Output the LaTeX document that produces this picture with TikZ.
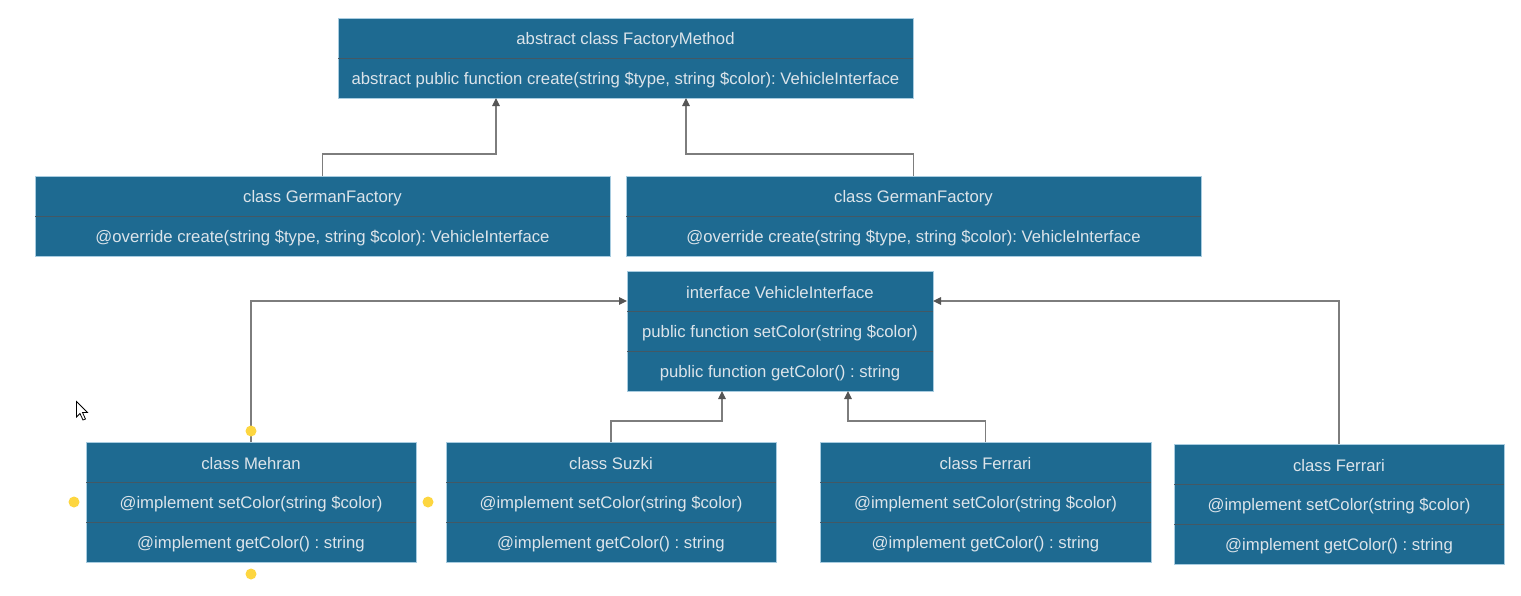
\documentclass[tikz,border=0pt]{standalone}
\usepackage{fontspec}
\setmainfont{Liberation Sans}
\usetikzlibrary{arrows.meta}
\frenchspacing
\definecolor{boxfill}{RGB}{30,106,145}
\definecolor{boxline}{RGB}{168,204,224}
\definecolor{sepline}{RGB}{68,88,100}
\definecolor{boxtext}{RGB}{220,228,234}
\definecolor{connline}{RGB}{125,125,125}
\definecolor{arrowcol}{RGB}{85,85,85}
\definecolor{handle}{RGB}{253,214,64}
\tikzset{
  umlbox/.style={draw=boxline, line width=0.8pt, fill=boxfill, rectangle, inner sep=0pt, outer sep=0pt},
  umltext/.style={text=boxtext, inner sep=0pt, font=\fontsize{16.7}{20}\selectfont\frenchspacing},
  sepstyle/.style={draw=sepline, line width=0.9pt},
  conn/.style={draw=connline, line width=1.1pt, -{Triangle[length=8pt,width=7.5pt,fill=arrowcol,color=arrowcol]}},
  handledot/.style={circle, fill=handle, draw=none, minimum size=11pt, inner sep=0pt},
}
% #1 name, #2 left x, #3 top y, #4 width, #5 number of rows, #6 rows
\newcommand\umlclass[6]{%
  \node[umlbox, minimum width=#4pt, minimum height=40*#5pt] (#1) at ({#2+#4/2},{#3+20*#5}) {};
  \foreach \rowtext [count=\k] in {#6} {
    \ifnum\k>1 \draw[sepstyle] ({#2},{#3+40*\k-40}) -- ++(#4,0); \fi
    \node[umltext] (#1-\k) at ({#2+#4/2},{#3+40*\k-18}) {\rowtext};
  }
}
\begin{document}
\begin{tikzpicture}[x=1pt,y=-1pt]
\useasboundingbox[fill=white] (0,0) rectangle (1521,595);

\umlclass{fm}{338}{18}{575}{2}{{abstract class FactoryMethod},{abstract public function create(string \$type, string \$color): VehicleInterface}}
\umlclass{gfa}{35}{176}{575}{2}{{class GermanFactory},{@override create(string \$type, string \$color): VehicleInterface}}
\umlclass{gfb}{626}{176}{575}{2}{{class GermanFactory},{@override create(string \$type, string \$color): VehicleInterface}}
\umlclass{vi}{627}{271}{306}{3}{{interface VehicleInterface},{public function setColor(string \$color)},{public function getColor() : string}}
\umlclass{meh}{86}{442}{330}{3}{{class Mehran},{@implement setColor(string \$color)},{@implement getColor() : string}}
\umlclass{suz}{446}{442}{330}{3}{{class Suzki},{@implement setColor(string \$color)},{@implement getColor() : string}}
\umlclass{fea}{820}{442}{331}{3}{{class Ferrari},{@implement setColor(string \$color)},{@implement getColor() : string}}
\umlclass{feb}{1174}{444}{330}{3}{{class Ferrari},{@implement setColor(string \$color)},{@implement getColor() : string}}

\coordinate (ja) at (496,154);
\coordinate (jb) at (686,154);
\coordinate (jc) at (722,421);
\coordinate (jd) at (848,421);
\coordinate (je) at (0,301);

\draw[conn] (gfa.north) |- (ja) -- (ja |- fm.south);
\draw[conn] (gfb.north) |- (jb) -- (jb |- fm.south);
\draw[conn] (suz.north) |- (jc) -- (jc |- vi.south);
\draw[conn] (fea.north) |- (jd) -- (jd |- vi.south);
\draw[conn] (meh.north) |- (vi.west |- je);
\draw[conn] (feb.north) |- (vi.east |- je);

\node[handledot] (h1) at (251,431) {};
\node[handledot] (h2) at (74,502) {};
\node[handledot] (h3) at (428,502) {};
\node[handledot] (h4) at (251,574) {};

% mouse cursor
\draw[fill=white, draw=black, line width=0.8pt, line join=miter]
  (76.5,401.5) -- (76.5,417) -- (80,413.5) -- (83,420) -- (85.5,419) -- (82.5,412.5) -- (87.5,412.5) -- cycle;
\end{tikzpicture}
\end{document}
